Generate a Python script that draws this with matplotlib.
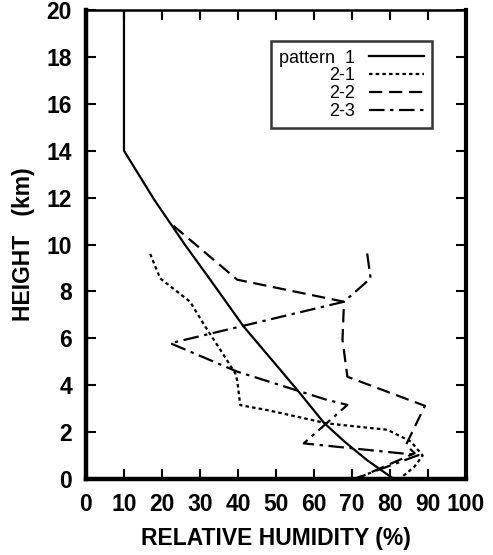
import matplotlib
matplotlib.use('Agg')
import matplotlib.pyplot as plt

# relative humidity (%) vs height (km)
p1_rh = [10, 10, 18, 26, 32.7, 41.5, 55.6, 62.6, 68, 74, 81]
p1_z = [20, 14, 11.9, 10, 8.5, 6.5, 3.8, 2.4, 1.6, 0.8, 0]

p21_rh = [16.9, 19.5, 27.4, 31, 35.4, 39.3, 39.8, 40.6, 47.7, 63.5, 79.3, 85.5, 88.6, 86.4, 82.5]
p21_z = [9.6, 8.56, 7.56, 6.6, 5.5, 4.5, 4.2, 3.15, 2.94, 2.37, 2.1, 1.6, 1.0, 0.52, 0]

p22_rh = [23, 39.8, 67.9, 67.5, 68.8, 89.2, 84.2, 86.5, 71]
p22_z = [10.8, 8.5, 7.56, 5.93, 4.36, 3.12, 1.45, 1.1, 0]

p23_rh = [74, 74.9, 67.9, 22.2, 39.8, 63.5, 68.8, 57.3, 87.5, 70.5]
p23_z = [9.62, 8.56, 7.56, 5.79, 4.58, 3.37, 3.16, 1.52, 1.02, 0]

xticks = list(range(0, 101, 10))
yticks = list(range(0, 21, 2))

plt.rcParams['font.family'] = ['Liberation Sans', 'DejaVu Sans']

fig = plt.figure(figsize=(4.93, 5.55), dpi=100)
ax = fig.add_axes([0.1744, 0.1369, 0.7708, 0.8451])

lw = 1.6
ax.plot(p1_rh, p1_z, color='black', lw=lw, label='pattern  1')
ax.plot(p21_rh, p21_z, color='black', lw=lw, linestyle=(0, (1.6, 1.4)), label='2-1')
ax.plot(p22_rh, p22_z, color='black', lw=lw, linestyle=(0, (6, 3)), label='2-2')
ax.plot(p23_rh, p23_z, color='black', lw=lw, linestyle=(0, (7, 2.5, 1.5, 2.5)), label='2-3')

ax.set_xlim(0, 100)
ax.set_ylim(0, 20)
ax.set_xticks(xticks)
ax.set_yticks(yticks)
ax.tick_params(direction='in', length=7, width=1.5, top=True, right=True,
               labelsize=16.5)
ax.tick_params(axis='x', pad=10)
ax.tick_params(axis='y', pad=10)
for lab in ax.get_xticklabels() + ax.get_yticklabels():
    lab.set_fontweight('bold')

for side, w in [('left', 3.2), ('bottom', 3.2), ('right', 3.0), ('top', 1.8)]:
    ax.spines[side].set_linewidth(w)

ax.set_xlabel('RELATIVE HUMIDITY (%)', fontsize=16.5, fontweight='bold', labelpad=8)
ax.set_ylabel('HEIGHT   (km)', fontsize=16.5, fontweight='bold', labelpad=8)

leg = ax.legend(loc='upper right', bbox_to_anchor=(0.91, 0.933), markerfirst=False,
                frameon=True, fancybox=False, edgecolor='black', fontsize=13,
                handlelength=3.0, labelspacing=0.05, borderpad=0.45,
                handletextpad=0.8, borderaxespad=0)
leg.get_frame().set_linewidth(1.8)

fig.savefig('out.png', dpi=100)
